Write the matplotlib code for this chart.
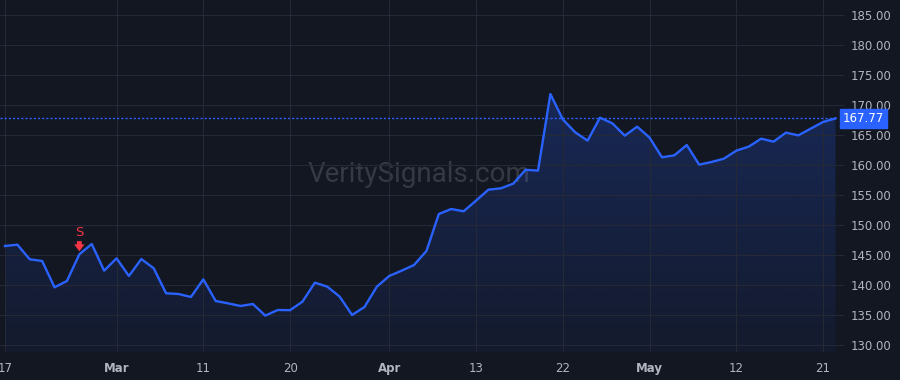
import matplotlib.pyplot as plt
import matplotlib.transforms as mtransforms
import numpy as np
from matplotlib.patches import Polygon

# daily closes (Feb 17 .. May 22)
close = [146.50, 146.72, 144.28, 144.00, 139.61, 140.67, 145.11, 146.83, 142.39, 144.44,
         141.50, 144.33, 142.78, 138.61, 138.50, 138.00, 140.94, 137.33, 136.94, 136.50,
         136.83, 134.89, 135.83, 135.80, 137.22, 140.39, 139.72, 138.06, 135.00, 136.33,
         139.72, 141.50, 142.39, 143.33, 145.67, 151.83, 152.67, 152.28, 154.06, 155.89,
         156.11, 156.89, 159.20, 159.06, 171.83, 167.61, 165.44, 164.06, 167.89, 166.94,
         164.89, 166.39, 164.56, 161.28, 161.61, 163.33, 160.06, 160.50, 161.06, 162.39,
         163.06, 164.39, 163.89, 165.39, 164.94, 166.06, 167.17, 167.77]
tick_idx = [0, 9, 16, 23, 31, 38, 45, 52, 59, 66]
tick_labels = ["17", "Mar", "11", "20", "Apr", "13", "22", "May", "12", "21"]
month_labels = ["Mar", "Apr", "May"]
yticks = np.arange(130, 186, 5)
signal_idx = 6
signal_label = "S"
last_price = 167.77
watermark = "VeritySignals.com"

BG = "#131722"
GRID = "#252936"
TXT = "#b2b5be"
BLUE = "#2962ff"
RED = "#f23645"

x = np.arange(len(close))
ymin, ymax = 128.83, 187.5
xmin, xmax = -0.4, 67.2

fig = plt.figure(figsize=(9, 3.8), dpi=100, facecolor=BG)
ax = fig.add_axes([0, 28 / 380, 838 / 900, 352 / 380], facecolor=BG)

# gradient fill under the line
verts = [(x[0], ymin)] + list(zip(x, close)) + [(x[-1], ymin)]
poly = Polygon(verts, closed=True, facecolor="none", edgecolor="none")
ax.add_patch(poly)
rgba = np.zeros((256, 1, 4))
rgba[..., :3] = [41 / 255, 98 / 255, 1.0]
rgba[..., 3] = np.linspace(0.24, 0.05, 256)[:, None]
im = ax.imshow(rgba, extent=[x[0], x[-1], ymin, max(close)], aspect="auto",
               origin="upper", zorder=1)
im.set_clip_path(poly)

ax.plot(x, close, color=BLUE, lw=1.7, zorder=3, solid_joinstyle="round")

# last price line + label
ax.axhline(last_price, color=BLUE, lw=1, ls=(0, (1.5, 1.5)), zorder=2)
trans = mtransforms.blended_transform_factory(ax.transAxes, ax.transData)
ax.text(1.006, last_price, f"{last_price:.2f}", transform=trans, color="white",
        fontsize=8.5, va="center", ha="left", clip_on=False,
        bbox=dict(boxstyle="square,pad=0.25", fc=BLUE, ec=BLUE))

# sell signal
sy = close[signal_idx]
ax.annotate("", xy=(signal_idx, sy + 0.5), xytext=(signal_idx, sy + 2.2),
            arrowprops=dict(arrowstyle="simple,head_width=0.75,head_length=0.5,tail_width=0.35",
                            color=RED, lw=0, shrinkA=0, shrinkB=0), zorder=4)
ax.text(signal_idx, sy + 3.0, signal_label, color=RED, fontsize=9.5,
        ha="center", va="baseline", zorder=4)

# watermark
ax.text(0.5, 0.483, watermark, transform=ax.transAxes, fontsize=20, family="Roboto",
        color="white", alpha=0.15, ha="center", va="baseline", zorder=0)

ax.set_xlim(xmin, xmax)
ax.set_ylim(ymin, ymax)
ax.set_xticks(tick_idx)
ax.set_xticklabels(tick_labels)
for lab in ax.get_xticklabels():
    if lab.get_text() in month_labels:
        lab.set_fontweight("bold")
ax.set_yticks(yticks)
ax.set_yticklabels([f"{v:.2f}" for v in yticks])
ax.yaxis.tick_right()
ax.tick_params(axis="y", colors=GRID, labelcolor=TXT, labelsize=8.5, length=4, pad=5)
ax.tick_params(axis="x", length=0, labelcolor=TXT, labelsize=8.5, pad=7)
ax.grid(True, color=GRID, lw=0.8, zorder=0)
for s in ax.spines.values():
    s.set_visible(False)

fig.savefig("out.png", dpi=100, facecolor=BG)
